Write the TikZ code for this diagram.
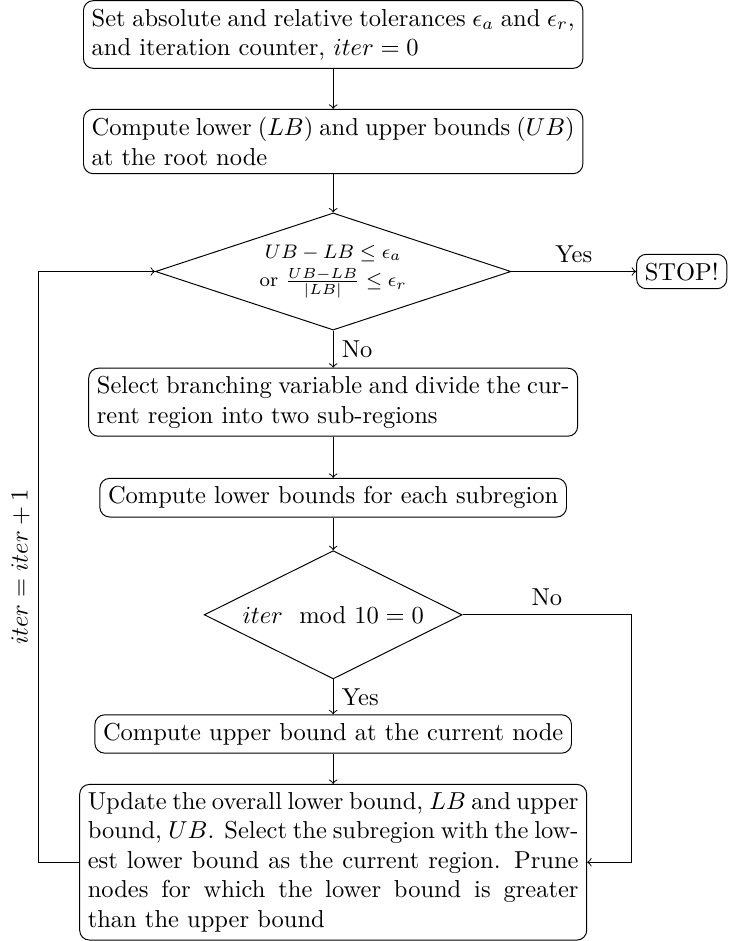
\documentclass[tikz,border=0pt]{standalone}
\usepackage{amsmath}
\usetikzlibrary{arrows,calc,shapes.geometric}

\begin{document}
\begin{tikzpicture}[
  box/.style={draw,rounded corners,align=justify},
  decision/.style={draw,diamond,inner sep=0pt,align=center},
  line/.style={->}]
\useasboundingbox (-4.78,-13.50) rectangle (5.68,0);

\node[box,text width=6.93cm] (init) at (0,-0.495)
  {Set absolute and relative tolerances $\epsilon_a$ and $\epsilon_r$, and iteration counter, $iter=0$};
\node[box,text width=6.93cm] (root) at (0,-2.03)
  {Compute lower $(LB)$ and upper bounds $(UB)$ at the root node};
\node[decision,aspect=3.04,minimum width=5.1cm,minimum height=1.68cm,font=\footnotesize] (chk) at (0,-3.895)
  {$UB-LB\le\epsilon_a$\\[2pt] or $\frac{UB-LB}{|LB|}\le\epsilon_r$};
\node[box] (stop) at (5.0,-3.895) {STOP!};
\node[box,text width=6.78cm] (branch) at (0,-5.77)
  {Select branching variable and divide the current region into two sub-regions};
\node[box] (lower) at (0,-7.14) {Compute lower bounds for each subregion};
\node[decision,aspect=2,minimum width=3.7cm,minimum height=1.84cm] (modchk) at (0,-8.82)
  {$iter \mod 10 = 0$};
\node[box] (upper) at (0,-10.53) {Compute upper bound at the current node};
\node[box,text width=7.04cm] (update) at (0,-12.37)
  {Update the overall lower bound, $LB$ and upper bound, $UB$. Select the subregion with the lowest lower bound as the current region. Prune nodes for which the lower bound is greater than the upper bound};

\coordinate (rgt) at (4.275,-8.82);
\coordinate (lft) at (-4.23,-12.37);

\draw[line] (init) -- (root);
\draw[line] (root) -- (chk);
\draw[line] (chk) -- node[above] {Yes} (stop);
\draw[line] (chk) -- node[right] {No} (branch);
\draw[line] (branch) -- (lower);
\draw[line] (lower) -- (modchk);
\draw[line] (modchk) -- node[right] {Yes} (upper);
\draw[line] (upper) -- (update);
\draw[line] (modchk) -- node[above] {No} (rgt) |- (update);
\draw[line] (update) -- (lft) |- node[pos=0.25,above,sloped] {$iter=iter+1$} (chk);

\end{tikzpicture}
\end{document}
